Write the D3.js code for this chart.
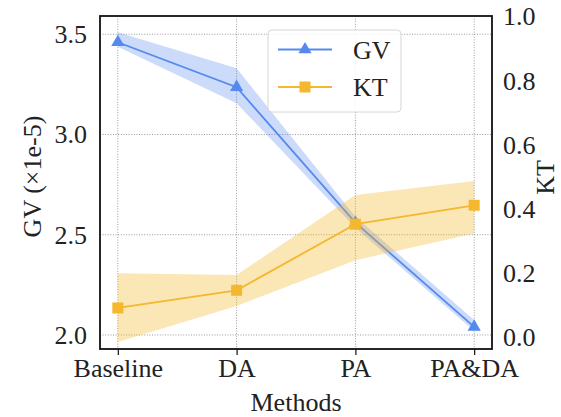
<!DOCTYPE html>
<html><head><meta charset="utf-8">
<script src="https://cdn.jsdelivr.net/npm/d3@7"></script>
<style>body{margin:0;background:#fff}svg{display:block}svg text{font-family:"Liberation Serif",serif !important;fill:#222}</style>
</head><body>
<svg id="c" width="561" height="417"></svg>
<script>
const categories = ["Baseline", "DA", "PA", "PA&DA"];
const gvMean  = [3.46, 3.236, 2.56, 2.04];
const gvUpper = [3.51, 3.33, 2.59, 2.075];
const gvLower = [3.437, 3.156, 2.535, 2.02];
const ktMean  = [0.092, 0.147, 0.353, 0.412];
const ktUpper = [0.20, 0.195, 0.444, 0.488];
const ktLower = [-0.014, 0.098, 0.241, 0.324];
const gvTicks = [2.0, 2.5, 3.0, 3.5];
const ktTicks = [0.0, 0.2, 0.4, 0.6, 0.8, 1.0];

const m = {l:100, r:492, t:16, b:349};
const svg = d3.select("#c");
const FS = 26;
const FF = "Liberation Serif, serif";
const blue = "#5589ee", yellow = "#f4b82e";

const x = d3.scaleLinear().domain([-0.15, 3.15]).range([m.l, m.r]);
const yL = d3.scaleLinear().domain([1.93, 3.591]).range([m.b, m.t]);
const yR = d3.scaleLinear().domain([-0.036, 1.002]).range([m.b, m.t]);

const g = svg.append("g");
g.selectAll("line.vx").data(categories).join("line")
  .attr("x1",(d,i)=>x(i)).attr("x2",(d,i)=>x(i)).attr("y1",m.t).attr("y2",m.b)
  .attr("stroke","#9a9a9a").attr("stroke-width",1).attr("stroke-dasharray","1,1.6");
g.selectAll("line.hy").data(gvTicks).join("line")
  .attr("x1",m.l).attr("x2",m.r).attr("y1",d=>yL(d)).attr("y2",d=>yL(d))
  .attr("stroke","#9a9a9a").attr("stroke-width",1).attr("stroke-dasharray","1,1.6");

const idx = categories.map((d,i)=>i);
svg.append("path").datum(idx)
  .attr("d", d3.area().x(i=>x(i)).y0(i=>yL(gvLower[i])).y1(i=>yL(gvUpper[i])))
  .attr("fill", blue).attr("fill-opacity",0.3);
svg.append("path").datum(idx)
  .attr("d", d3.line().x(i=>x(i)).y(i=>yL(gvMean[i])))
  .attr("fill","none").attr("stroke",blue).attr("stroke-width",1.8);
const tri = d3.symbol().type(d3.symbolTriangle).size(75);
svg.selectAll("path.tri").data(idx).join("path")
  .attr("transform", i=>`translate(${x(i)},${yL(gvMean[i])})`)
  .attr("d", tri).attr("fill", blue);

svg.append("path").datum(idx)
  .attr("d", d3.area().x(i=>x(i)).y0(i=>yR(ktLower[i])).y1(i=>yR(ktUpper[i])))
  .attr("fill", yellow).attr("fill-opacity",0.35);
svg.append("path").datum(idx)
  .attr("d", d3.line().x(i=>x(i)).y(i=>yR(ktMean[i])))
  .attr("fill","none").attr("stroke",yellow).attr("stroke-width",1.8);
svg.selectAll("rect.sq").data(idx).join("rect")
  .attr("x", i=>x(i)-5.5).attr("y", i=>yR(ktMean[i])-5.5)
  .attr("width",11).attr("height",11).attr("fill", yellow);

svg.append("rect").attr("x",m.l).attr("y",m.t).attr("width",m.r-m.l).attr("height",m.b-m.t)
  .attr("fill","none").attr("stroke","#111").attr("stroke-width",1.8);

function styleText(sel){ return sel.attr("font-size",FS).attr("fill","#222").attr("font-family",FF); }

const ax = svg.append("g").attr("transform",`translate(0,${m.b})`)
  .call(d3.axisBottom(x).tickValues(idx).tickFormat(i=>categories[i]).tickSize(6).tickPadding(4));
ax.attr("font-family",FF);
ax.select(".domain").remove();
ax.selectAll("line").attr("stroke","#111").attr("stroke-width",1.2);
styleText(ax.selectAll("text"));

const al = svg.append("g").attr("transform",`translate(${m.l},0)`)
  .call(d3.axisLeft(yL).tickValues(gvTicks).tickFormat(d3.format(".1f")).tickSize(0).tickPadding(13));
al.attr("font-family",FF);
al.select(".domain").remove();
styleText(al.selectAll("text"));

const ar = svg.append("g").attr("transform",`translate(${m.r},0)`)
  .call(d3.axisRight(yR).tickValues(ktTicks).tickFormat(d3.format(".1f")).tickSize(0).tickPadding(11));
ar.attr("font-family",FF);
ar.select(".domain").remove();
styleText(ar.selectAll("text"));

styleText(svg.append("text").attr("x",(m.l+m.r)/2).attr("y",411).attr("text-anchor","middle").text("Methods"));
styleText(svg.append("text").attr("transform",`translate(41,${(m.t+m.b)/2-6}) rotate(-90)`)
  .attr("text-anchor","middle").text("GV (×1e-5)"));
styleText(svg.append("text").attr("transform",`translate(554,${(m.t+m.b)/2-5}) rotate(-90)`)
  .attr("text-anchor","middle").text("KT"));

const lg = svg.append("g");
lg.append("rect").attr("x",268).attr("y",30).attr("width",133).attr("height",82).attr("rx",4)
  .attr("fill","#fff").attr("fill-opacity",0.85).attr("stroke","#d6d6d6").attr("stroke-width",1);
const items = [{name:"GV", c:blue, y:49.5, s:"tri"},{name:"KT", c:yellow, y:87, s:"sq"}];
items.forEach(it=>{
  lg.append("line").attr("x1",278).attr("x2",332).attr("y1",it.y).attr("y2",it.y)
    .attr("stroke",it.c).attr("stroke-width",1.8);
  if(it.s==="tri") lg.append("path").attr("transform",`translate(305,${it.y})`).attr("d",tri).attr("fill",it.c);
  else lg.append("rect").attr("x",299.5).attr("y",it.y-5.5).attr("width",11).attr("height",11).attr("fill",it.c);
  styleText(lg.append("text").attr("x",353).attr("y",it.y+9).text(it.name));
});
</script>
</body></html>
